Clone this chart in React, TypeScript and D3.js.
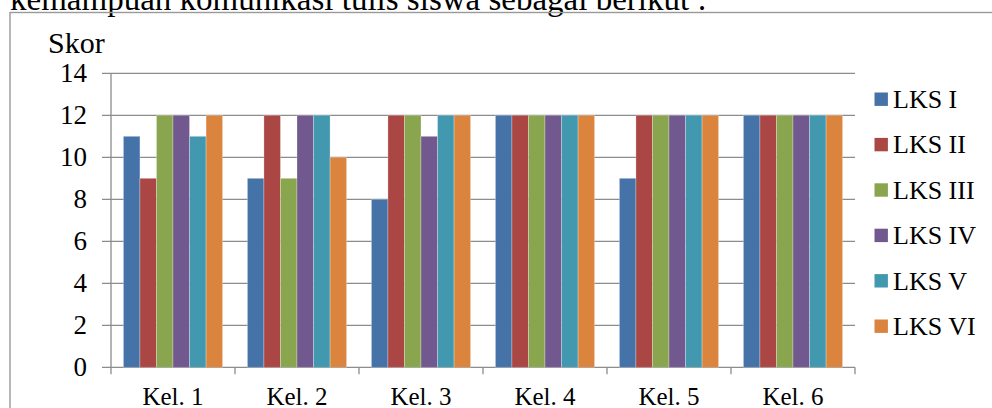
import React from "react";
import * as d3 from "d3";

const categories = ["Kel. 1", "Kel. 2", "Kel. 3", "Kel. 4", "Kel. 5", "Kel. 6"];
const seriesNames = ["LKS I", "LKS II", "LKS III", "LKS IV", "LKS V", "LKS VI"];
const lks1 = [11, 9, 8, 12, 9, 12];
const lks2 = [9, 12, 12, 12, 12, 12];
const lks3 = [12, 9, 12, 12, 12, 12];
const lks4 = [12, 12, 11, 12, 12, 12];
const lks5 = [11, 12, 12, 12, 12, 12];
const lks6 = [12, 10, 12, 12, 12, 12];
const yTicks = [0, 2, 4, 6, 8, 10, 12, 14];
const colors = ["#4572A7", "#AA4643", "#89A54E", "#71588F", "#4198AF", "#DB843D"];
const topText = "kemampuan komunikasi tulis siswa sebagai berikut :";
const yTitle = "Skor";

const seriesValues = [lks1, lks2, lks3, lks4, lks5, lks6];

export default function App() {
  const W = 992, H = 408;
  const left = 111, right = 855, top = 73.3, bottom = 367.3;
  const x = d3.scaleBand<string>().domain(categories).range([left, right]).padding(0);
  const y = d3.scaleLinear().domain([0, 14]).range([bottom, top]);
  const bw = x.bandwidth();
  const barW = bw / 7.5;
  const inner = d3.scaleBand<string>().domain(seriesNames).range([0, barW * 6]);
  const font = "'Liberation Serif', 'Times New Roman', serif";
  const gridColor = "#8c8c8c";
  const legendY = d3.scaleLinear().domain([0, 5]).range([99.2, 326.2]);

  return (
    <svg width={W} height={H} style={{ position: "absolute", left: 0, top: 0, background: "#fff" }}>
      <rect x={0} y={0} width={W} height={H} fill="#fff" />
      <text x={10} y={9.5} fontFamily={font} fontSize={33} fill="#000">{topText}</text>
      <rect x={10} y={12.5} width={1000} height={420} fill="none" stroke="#999" strokeWidth={1.4} />
      <text x={48} y={52.5} fontFamily={font} fontSize={30} fill="#000">{yTitle}</text>
      {yTicks.map((t) => (
        <g key={t}>
          <line x1={102} x2={right} y1={y(t)} y2={y(t)} stroke={gridColor} strokeWidth={1.3} />
          <text x={87} y={y(t)} dy="0.33em" textAnchor="end" fontFamily={font} fontSize={27} fill="#000">{t}</text>
        </g>
      ))}
      <line x1={left} x2={left} y1={top} y2={bottom + 7} stroke={gridColor} strokeWidth={1.3} />
      {categories.map((c, i) => (
        <g key={c}>
          <line x1={(x(c) as number) + bw} x2={(x(c) as number) + bw} y1={bottom} y2={bottom + 7} stroke={gridColor} strokeWidth={1.3} />
          <text x={(x(c) as number) + bw / 2} y={405} textAnchor="middle" fontFamily={font} fontSize={25} fill="#000">{c}</text>
        </g>
      ))}
      {seriesValues.map((vals, s) => (
        <g key={seriesNames[s]}>
          {vals.map((v, i) => (
            <rect
              key={i}
              x={(x(categories[i]) as number) + barW * 0.75 + (inner(seriesNames[s]) as number)}
              y={y(v)}
              width={barW}
              height={y(0) - y(v)}
              fill={colors[s]}
              stroke="#ffffff"
              strokeOpacity={0.35}
              strokeWidth={0.8}
            />
          ))}
        </g>
      ))}
      {seriesNames.map((n, s) => (
        <g key={n}>
          <rect x={874.5} y={legendY(s) - 6.7} width={13.4} height={13.4} fill={colors[s]} />
          <text x={893} y={legendY(s)} dy="0.34em" fontFamily={font} fontSize={26} fill="#000">{n}</text>
        </g>
      ))}
    </svg>
  );
}
